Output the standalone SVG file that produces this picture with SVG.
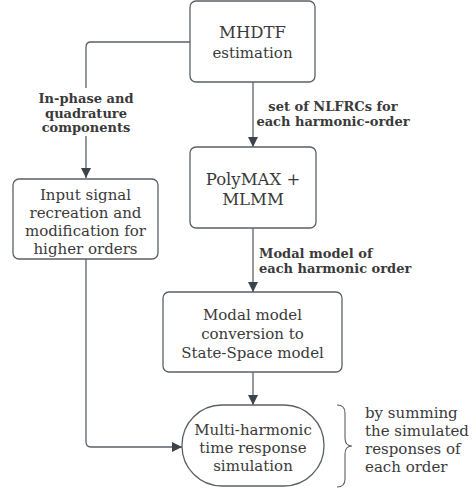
<svg xmlns="http://www.w3.org/2000/svg" width="476" height="489" viewBox="0 0 476 489">
  <style>
    .box { fill: #ffffff; stroke: #5b6068; stroke-width: 1.3; }
    .t { font-family: "DejaVu Serif", "Liberation Serif", serif; font-size: 15px; fill: #3a3a3a; text-anchor: middle; }
    .big { font-size: 16.5px; }
    .tl { font-family: "DejaVu Serif", "Liberation Serif", serif; font-size: 15px; fill: #3a3a3a; text-anchor: start; }
    .lbl { font-family: "DejaVu Serif", "Liberation Serif", serif; font-size: 13px; font-weight: bold; fill: #3a3a3a; text-anchor: middle; }
    .lbll { font-family: "DejaVu Serif", "Liberation Serif", serif; font-size: 13px; font-weight: bold; fill: #3a3a3a; text-anchor: start; }
    .edge { fill: none; stroke: #5b6068; stroke-width: 1.3; }
    .brace { fill: none; stroke: #5b6068; stroke-width: 1.1; }
  </style>
  <defs>
    <marker id="arrow" viewBox="0 0 10 10" refX="10" refY="5" markerWidth="10" markerHeight="10" markerUnits="userSpaceOnUse" orient="auto">
      <path d="M0,0 L10,5 L0,10 Z" fill="#3d434b"/>
    </marker>
  </defs>

  <g id="connectors">
    <path class="edge" d="M190,42 L91,42 Q86,42 86,47 L86,178" marker-end="url(#arrow)"/>
    <path class="edge" d="M253,82 L253,147" marker-end="url(#arrow)"/>
    <path class="edge" d="M253,228 L253,292" marker-end="url(#arrow)"/>
    <path class="edge" d="M253,372 L253,405" marker-end="url(#arrow)"/>
    <path class="edge" d="M86,259 L86,442 Q86,447 91,447 L182,447" marker-end="url(#arrow)"/>
    <rect x="36" y="88" width="100" height="48" fill="#ffffff"/>
    <text class="lbl"><tspan x="86" y="103">In-phase and</tspan><tspan x="86" y="118">quadrature</tspan><tspan x="86" y="132">components</tspan></text>
    <text class="lbl"><tspan x="333" y="111">set of NLFRCs for</tspan><tspan x="333" y="126">each harmonic-order</tspan></text>
    <text class="lbll"><tspan x="259" y="258">Modal model of</tspan><tspan x="259" y="273">each harmonic order</tspan></text>
  </g>

  <g id="mhdtf">
    <rect class="box" x="190" y="1" width="125" height="81" rx="6"/>
    <text class="t"><tspan class="big" x="252.5" y="38">MHDTF</tspan><tspan x="252.5" y="58">estimation</tspan></text>
  </g>

  <g id="polymax">
    <rect class="box" x="190" y="147" width="126" height="81" rx="6"/>
    <text class="t big"><tspan x="253" y="185">PolyMAX +</tspan><tspan x="253" y="205">MLMM</tspan></text>
  </g>

  <g id="input">
    <rect class="box" x="13" y="179" width="145" height="80" rx="6"/>
    <text class="t"><tspan x="85.5" y="200">Input signal</tspan><tspan x="85.5" y="218">recreation and</tspan><tspan x="85.5" y="236">modification for</tspan><tspan x="85.5" y="254">higher orders</tspan></text>
  </g>

  <g id="statespace">
    <rect class="box" x="163" y="292" width="179" height="80" rx="6"/>
    <text class="t"><tspan x="252.5" y="320">Modal model</tspan><tspan x="252.5" y="339">conversion to</tspan><tspan x="252.5" y="358">State-Space model</tspan></text>
  </g>

  <g id="simulation">
    <rect class="box" x="182" y="405" width="142" height="81" rx="40"/>
    <text class="t"><tspan x="253" y="435">Multi-harmonic</tspan><tspan x="253" y="453">time response</tspan><tspan x="253" y="471">simulation</tspan></text>
  </g>

  <g id="note">
    <path class="brace" d="M337,405 Q345,405 345,413 L345,438 Q345,446 352,446 Q345,446 345,454 L345,479 Q345,487 337,487"/>
    <text class="tl"><tspan x="365" y="418">by summing</tspan><tspan x="365" y="436">the simulated</tspan><tspan x="365" y="454">responses of</tspan><tspan x="365" y="472">each order</tspan></text>
  </g>
</svg>
